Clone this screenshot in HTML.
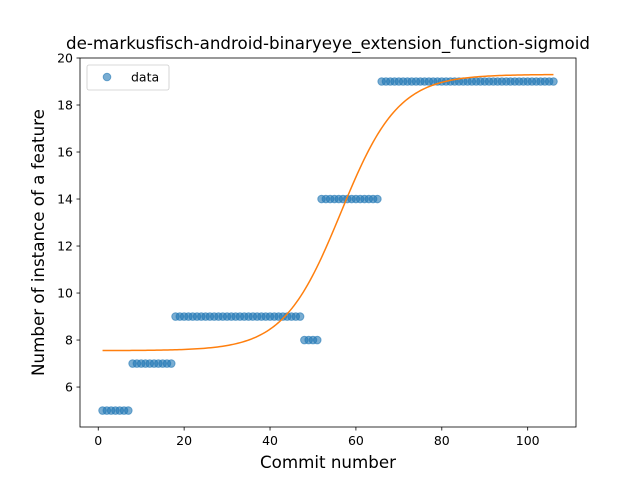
<!DOCTYPE html>
<html><head><meta charset="utf-8"><style>
body{margin:0;background:#fff;font-family:"Liberation Sans","DejaVu Sans",sans-serif}
</style></head><body>
<svg id="chart" width="640" height="480" viewBox="0 0 640 480" font-family="'DejaVu Sans','Liberation Sans',sans-serif"></svg>
<script>
const segLevels=[5,7,9,8,14,19];
const segStarts=[1,8,18,48,52,66];
const segEnds=[7,17,47,51,65,106];
const sigmoidParams=[7.55,11.75,56.5,0.15]; // base, amplitude, midpoint, steepness
const xTicks=[0,20,40,60,80,100];
const yTicks=[6,8,10,12,14,16,18,20];
const L=80,R=576,T=58,B=427,xmin=-4.25,xmax=111.25,ymin=4.3,ymax=20.0;
const sx=v=>L+(v-xmin)/(xmax-xmin)*(R-L);
const sy=v=>B-(v-ymin)/(ymax-ymin)*(B-T);
const svg=document.getElementById('chart');
const NS='http://www.w3.org/2000/svg';
function mk(tag,attrs,parent){const e=document.createElementNS(NS,tag);for(const k in attrs)e.setAttribute(k,attrs[k]);(parent||svg).appendChild(e);return e;}
const pg=mk('g',{});


segLevels.forEach((lv,i)=>{for(let x=segStarts[i];x<=segEnds[i];x++){const c=mk('circle',{cx:sx(x),cy:sy(lv),r:3.8,fill:'#1f77b4','fill-opacity':0.6,stroke:'#1f77b4','stroke-opacity':0.6},pg);

}});
const [a,b,x0,k]=sigmoidParams;let d='';
for(let i=0;i<=200;i++){const x=1+(105*i/200);const y=a+b/(1+Math.exp(-k*(x-x0)));d+=(i?'L':'M')+sx(x).toFixed(2)+','+sy(y).toFixed(2);}
const cv=mk('path',{d:d,fill:'none',stroke:'#ff7f0e','stroke-width':1.5});


const fr=mk('rect',{x:L,y:T,width:R-L,height:B-T,fill:'none',stroke:'#000','stroke-width':0.8});


xTicks.forEach(v=>{mk('line',{x1:sx(v),x2:sx(v),y1:B,y2:B+3.5,stroke:'#000','stroke-width':0.8});
const t=mk('text',{x:sx(v),y:B+18,'text-anchor':'middle','font-size':12.5});t.textContent=v;

});
yTicks.forEach(v=>{mk('line',{x1:L-3.5,x2:L,y1:sy(v),y2:sy(v),stroke:'#000','stroke-width':0.8});
const t=mk('text',{x:L-7,y:sy(v)+4.5,'text-anchor':'end','font-size':12.5});t.textContent=v;

});
const tt=mk('text',{x:(L+R)/2,y:49,'text-anchor':'middle','font-size':16.7});tt.textContent='de-markusfisch-android-binaryeye_extension_function-sigmoid';


const xl=mk('text',{x:(L+R)/2,y:468,'text-anchor':'middle','font-size':16.7});xl.textContent='Commit number';


const yl=mk('text',{x:0,y:0,'text-anchor':'middle','font-size':16.7,transform:`translate(44,${(T+B)/2}) rotate(-90)`});yl.textContent='Number of instance of a feature';


const lg=mk('g',{});


mk('rect',{x:87,y:65,width:82,height:25,rx:2,fill:'#fff','fill-opacity':0.8,stroke:'#ccc','stroke-width':0.8},lg);
mk('circle',{cx:107,cy:77,r:3.8,fill:'#1f77b4','fill-opacity':0.6,stroke:'#1f77b4','stroke-opacity':0.6},lg);
const lt=mk('text',{x:131,y:81.5,'font-size':12.5},lg);lt.textContent='data';


</script>
</body></html>
